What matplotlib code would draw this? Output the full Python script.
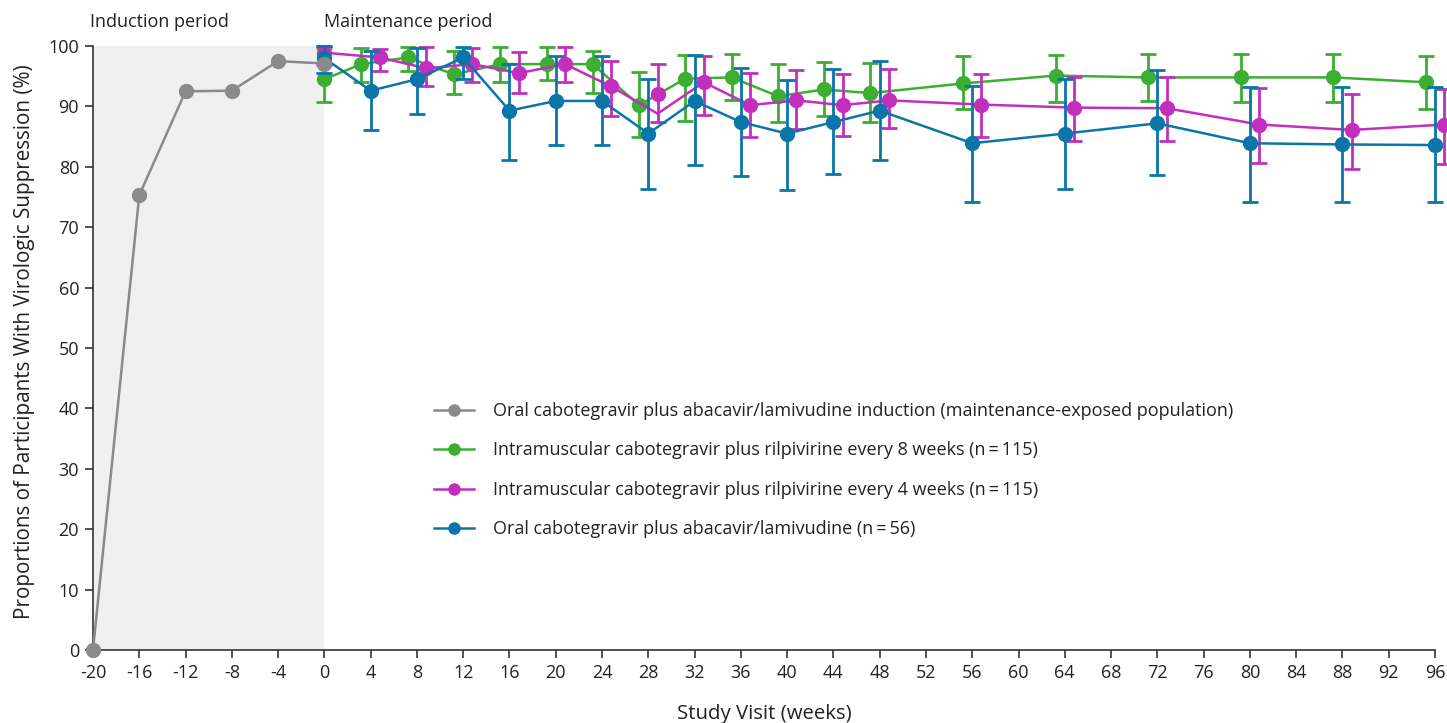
import matplotlib
matplotlib.use("Agg")
import matplotlib.pyplot as plt
import numpy as np

plt.rcParams['font.family'] = ['Open Sans', 'DejaVu Sans']

# ---- data ----
induction_weeks = [-20, -16, -12, -8, -4, 0]
induction_vals = [0, 75.3, 92.5, 92.6, 97.5, 97.1]

weeks = [0, 4, 8, 12, 16, 20, 24, 28, 32, 36, 40, 44, 48, 56, 64, 72, 80, 88, 96]

q8w_vals = [94.5, 97.0, 98.1, 95.3, 97.0, 97.0, 97.0, 90.2, 94.6, 94.8, 91.7, 92.8, 92.2, 93.8, 95.1, 94.8, 94.8, 94.8, 94.0]
q8w_hi = [99.7, 99.6, 99.8, 99.1, 99.8, 99.8, 99.1, 95.7, 98.5, 98.6, 97.0, 97.4, 97.2, 98.3, 98.5, 98.7, 98.6, 98.6, 98.3]
q8w_lo = [90.7, 94.0, 95.9, 92.0, 94.1, 94.3, 92.2, 84.9, 87.6, 91.1, 87.5, 88.4, 87.5, 89.6, 90.7, 90.9, 90.7, 90.7, 89.5]

q4w_vals = [98.9, 98.1, 96.3, 97.0, 95.5, 97.0, 93.3, 92.1, 94.0, 90.2, 91.0, 90.2, 91.0, 90.3, 89.8, 89.7, 87.0, 86.1, 87.0]
q4w_line = [98.9, 98.1, 96.3, 97.0, 95.5, 97.0, 93.3, 88.8, 94.0, 90.2, 91.0, 90.2, 91.0, 90.3, 89.8, 89.7, 87.0, 86.1, 87.0]
q4w_hi = [100.0, 99.5, 99.8, 99.7, 99.0, 99.8, 97.5, 97.0, 98.3, 95.5, 96.1, 95.3, 96.2, 95.4, 94.8, 94.8, 93.0, 92.0, 92.9]
q4w_lo = [96.8, 95.9, 93.3, 94.0, 92.2, 94.1, 88.4, 87.4, 88.6, 85.0, 86.3, 85.1, 86.5, 84.9, 84.2, 84.2, 80.7, 79.7, 80.5]

oral_vals = [98.0, 92.6, 94.5, 98.1, 89.3, 90.9, 90.9, 85.5, 90.9, 87.4, 85.5, 87.4, 89.3, 83.9, 85.5, 87.2, 83.9, 83.7, 83.6]
oral_hi = [100.0, 99.2, 99.6, 99.8, 97.1, 98.3, 98.3, 94.5, 98.5, 96.3, 94.4, 96.2, 97.5, 93.3, 94.6, 96.1, 93.2, 93.2, 93.2]
oral_lo = [95.6, 86.1, 88.8, 94.5, 81.2, 83.6, 83.6, 76.4, 80.3, 78.5, 76.2, 78.8, 81.1, 74.2, 76.3, 78.6, 74.1, 74.2, 74.1]

x_ticks = list(range(-20, 97, 4))
y_ticks = list(range(0, 101, 10))

labels = [
    "Oral cabotegravir plus abacavir/lamivudine induction (maintenance-exposed population)",
    "Intramuscular cabotegravir plus rilpivirine every 8 weeks (n\u2009=\u2009115)",
    "Intramuscular cabotegravir plus rilpivirine every 4 weeks (n\u2009=\u2009115)",
    "Oral cabotegravir plus abacavir/lamivudine (n\u2009=\u200956)",
]

# ---- style ----
c_gray = "#8a8a8a"
c_green = "#3cae32"
c_mag = "#c22fbd"
c_blue = "#0a75a8"
text_c = "#222222"
fs = 13

fig = plt.figure(figsize=(14.47, 7.23), dpi=100)
ax = fig.add_axes([93/1447, 1-650/723, (1435-93)/1447, (650-46)/723])

ax.axvspan(-20, 0, color="#f0f0f0", zorder=0, lw=0)

w = np.array(weeks, dtype=float)
off = np.where(w > 0, 0.8, 0.0)

def series(x, vals, lo, hi, color, z, line_vals=None):
    vals = np.array(vals); lo = np.array(lo); hi = np.array(hi)
    lv = vals if line_vals is None else np.array(line_vals)
    ax.errorbar(x, vals, yerr=[vals - lo, hi - vals], fmt='none', ecolor=color,
                elinewidth=2.0, capsize=5.5, capthick=2.0, zorder=z, clip_on=False)
    ax.plot(x, lv, color=color, lw=1.8, zorder=z, clip_on=False)
    ax.plot(x, vals, 'o', color=color, ms=10, zorder=z + 0.5, clip_on=False)

series(w - off, q8w_vals, q8w_lo, q8w_hi, c_green, 3)
series(w + off, q4w_vals, q4w_lo, q4w_hi, c_mag, 4, line_vals=q4w_line)
series(w, oral_vals, oral_lo, oral_hi, c_blue, 5)
ax.plot(induction_weeks, induction_vals, '-o', color=c_gray, lw=1.8, ms=10, zorder=6, clip_on=False)

ax.set_xlim(-20, 96)
ax.set_ylim(0, 100)
ax.set_xticks(x_ticks)
ax.set_xticklabels([str(t) for t in x_ticks], fontsize=fs, color=text_c)
ax.set_yticks(y_ticks)
ax.set_yticklabels([str(t) for t in y_ticks], fontsize=fs, color=text_c)
for s in ["top", "right"]:
    ax.spines[s].set_visible(False)
for s in ["left", "bottom"]:
    ax.spines[s].set_color("#333333")
    ax.spines[s].set_linewidth(1.2)
ax.tick_params(axis='both', direction='out', length=6, width=1.2, color="#333333", pad=4)

ax.set_xlabel("Study Visit (weeks)", fontsize=14.7, color=text_c, labelpad=16)
ax.set_ylabel("Proportions of Participants With Virologic Suppression (%)", fontsize=14.9, color=text_c, labelpad=4)
ax.yaxis.set_label_coords(-58/1342, 0.51)

fig.text(90/1447, 1-22/723, "Induction period", fontsize=fs, color=text_c, va='center', ha='left')
fig.text(324/1447, 1-22/723, "Maintenance period", fontsize=fs, color=text_c, va='center', ha='left')

handles = [
    plt.Line2D([], [], color=c_gray, marker='o', lw=1.8, ms=8),
    plt.Line2D([], [], color=c_green, marker='o', lw=1.8, ms=8),
    plt.Line2D([], [], color=c_mag, marker='o', lw=1.8, ms=8),
    plt.Line2D([], [], color=c_blue, marker='o', lw=1.8, ms=8),
]
leg = ax.legend(handles, labels, loc='upper left', bbox_to_anchor=((434-93)/(1435-93), (650-402)/604),
                frameon=False, fontsize=fs, handlelength=2.2, handletextpad=1.05, labelspacing=1.19,
                borderaxespad=0, borderpad=0)
for t in leg.get_texts():
    t.set_color(text_c)

fig.savefig("out.png", dpi=100)
